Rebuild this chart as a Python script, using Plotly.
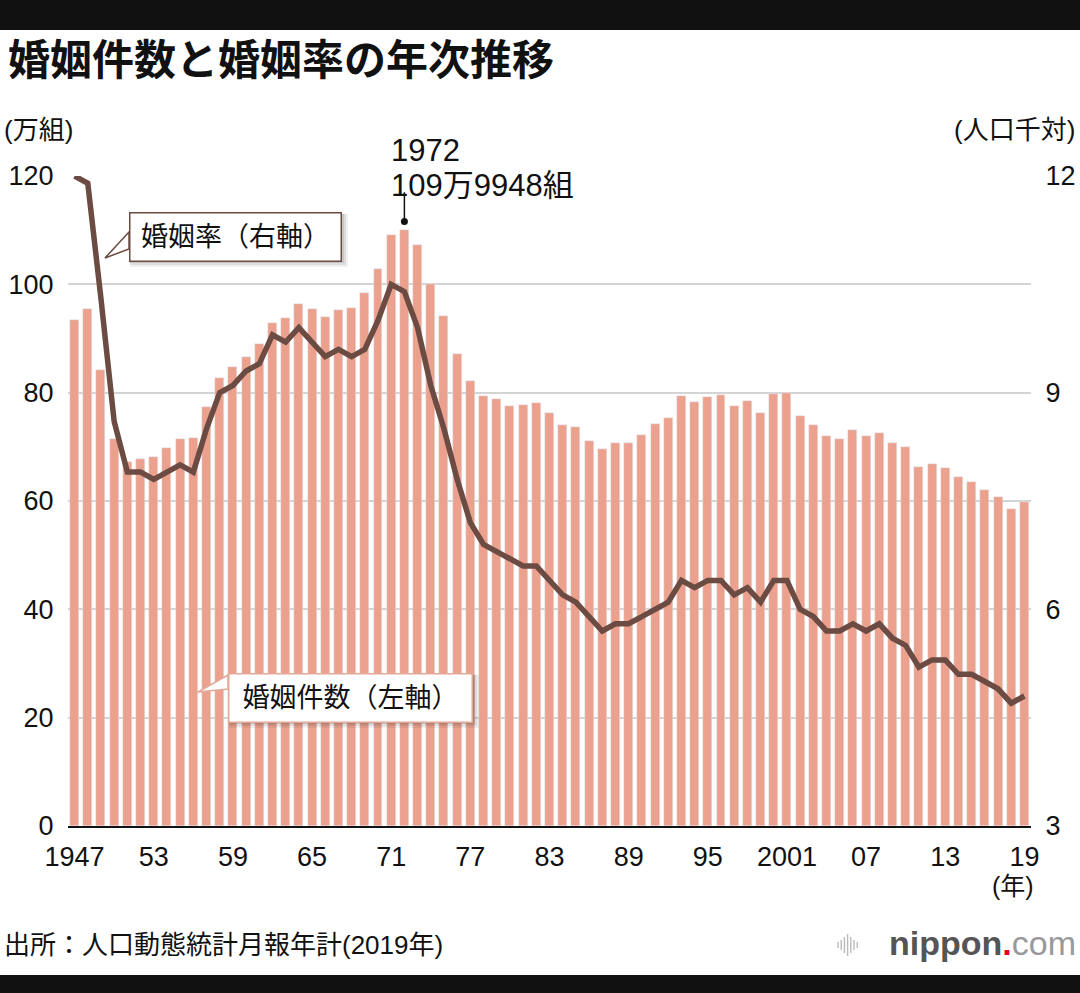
import plotly.graph_objects as go

# 年
years = list(range(1947, 2020))

# 婚姻件数（万組）
marriages = [
    93.4, 95.4, 84.2, 71.5, 67.2, 67.7, 68.2, 69.8, 71.5, 71.6,
    77.3, 82.7, 84.7, 86.6, 89.0, 92.8, 93.8, 96.3, 95.5, 94.0,
    95.3, 95.6, 98.4, 102.9, 109.1, 110.0, 107.2, 100.0, 94.2, 87.2,
    82.1, 79.3, 78.9, 77.5, 77.7, 78.1, 76.3, 74.0, 73.6, 71.1,
    69.6, 70.8, 70.8, 72.2, 74.2, 75.4, 79.3, 78.3, 79.2, 79.5,
    77.6, 78.5, 76.2, 79.8, 80.0, 75.7, 74.0, 72.0, 71.4, 73.1,
    72.0, 72.6, 70.8, 70.0, 66.2, 66.9, 66.1, 64.4, 63.5, 62.1,
    60.7, 58.6, 59.9,
]

# 婚姻率（人口千対）
rates = [
    12.0, 11.9, 10.3, 8.6, 7.9, 7.9, 7.8, 7.9, 8.0, 7.9,
    8.5, 9.0, 9.1, 9.3, 9.4, 9.8, 9.7, 9.9, 9.7, 9.5,
    9.6, 9.5, 9.6, 10.0, 10.5, 10.4, 9.9, 9.1, 8.5, 7.8,
    7.2, 6.9, 6.8, 6.7, 6.6, 6.6, 6.4, 6.2, 6.1, 5.9,
    5.7, 5.8, 5.8, 5.9, 6.0, 6.1, 6.4, 6.3, 6.4, 6.4,
    6.2, 6.3, 6.1, 6.4, 6.4, 6.0, 5.9, 5.7, 5.7, 5.8,
    5.7, 5.8, 5.6, 5.5, 5.2, 5.3, 5.3, 5.1, 5.1, 5.0,
    4.9, 4.7, 4.8,
]

x_tickvals = list(range(1947, 2020, 6))
x_ticktext = ["1947", "53", "59", "65", "71", "77", "83", "89", "95", "2001", "07", "13", "19"]
left_ticks = [0, 20, 40, 60, 80, 100, 120]
right_ticks = [3, 6, 9, 12]

peak_year = 1972
peak_value = marriages[years.index(peak_year)]

BAR = "#eba18e"
LINE = "#6b4b42"
FONT = "Liberation Sans, Noto Sans CJK JP"

W, H = 1080, 993
L, R, T, B = 68, 49, 176, 167
PW, PH = W - L - R, H - T - B


def px(x):
    return (x - L) / PW


def py(y):
    return (H - B - y) / PH


fig = go.Figure()
fig.add_trace(go.Bar(x=years, y=marriages, marker_color=BAR, width=0.68,
                     name="婚姻件数", hoverinfo="x+y"))
fig.add_trace(go.Scatter(x=years, y=rates, yaxis="y2", mode="lines",
                         line=dict(color=LINE, width=5.5), name="婚姻率",
                         cliponaxis=False))
# ピーク注記の点
fig.add_trace(go.Scatter(x=[peak_year], y=[peak_value + 1.6], mode="markers",
                         marker=dict(color="#111", size=7), showlegend=False))

shapes = [
    # 上下の黒帯
    dict(type="rect", xref="paper", yref="paper", x0=px(0), x1=px(W), y0=py(0), y1=py(30),
         fillcolor="#111", line_width=0, layer="above"),
    dict(type="rect", xref="paper", yref="paper", x0=px(0), x1=px(W), y0=py(975), y1=py(H),
         fillcolor="#111", line_width=0, layer="above"),
    # ピーク注記の線
    dict(type="line", xref="x", yref="y", x0=peak_year, x1=peak_year,
         y0=peak_value + 1.6, y1=peak_value + 7, line=dict(color="#111", width=1.5)),
]

# 吹き出しの影と尻尾
for (x0, y0, x1, y1) in [(128, 212, 342, 261), (227, 673, 473, 722)]:
    for k, op in [(6, 0.06), (4, 0.08), (2, 0.1)]:
        shapes.append(dict(type="rect", xref="paper", yref="paper",
                           x0=px(x0 + 2), x1=px(x1 + k), y0=py(y0 + 2), y1=py(y1 + k),
                           fillcolor="#000", opacity=op, line_width=0, layer="above"))


def tail(pts, color):
    d = "M " + " L ".join(f"{px(a):.5f},{py(b):.5f}" for a, b in pts) + " Z"
    return dict(type="path", xref="paper", yref="paper", path=d,
                fillcolor="white", line=dict(color=color, width=1.5), layer="above")


shapes.append(tail([(129, 232), (105, 258), (129, 249)], LINE))
shapes.append(tail([(228, 675), (198, 692), (228, 689)], "#e3a898"))

# nippon.com のアイコン
for i, hgt in enumerate([6, 10, 16, 22, 16, 10, 6]):
    xx = 838 + i * 3.2
    shapes.append(dict(type="line", xref="paper", yref="paper", x0=px(xx), x1=px(xx),
                       y0=py(945 - hgt / 2), y1=py(945 + hgt / 2),
                       line=dict(color="#bbbbbb", width=1.4)))

annotations = [
    dict(text="<b>婚姻件数と婚姻率の年次推移</b>", x=px(6), y=py(60), xanchor="left", yanchor="middle",
         font=dict(size=42, color="#111")),
    dict(text="(万組)", x=px(2), y=py(130), xanchor="left", yanchor="middle",
         font=dict(size=26, color="#111")),
    dict(text="(人口千対)", x=px(1077), y=py(130), xanchor="right", yanchor="middle",
         font=dict(size=26, color="#111")),
    dict(text="(年)", x=px(1013), y=py(886), xanchor="center", yanchor="middle",
         font=dict(size=25, color="#111")),
    dict(text="出所：人口動態統計月報年計(2019年)", x=px(2), y=py(945), xanchor="left", yanchor="middle",
         font=dict(size=26, color="#111")),
    dict(text="<b><span style='color:#555'>nippon</span><span style='color:#e60012'>.</span></b>"
              "<span style='color:#999'>com</span>",
         x=px(1078), y=py(943), xanchor="right", yanchor="middle",
         font=dict(size=34, family="Liberation Sans")),
    dict(text=f"{peak_year}", x=px(389), y=py(151), xanchor="left", yanchor="middle",
         font=dict(size=31, color="#111")),
    dict(text="109万9948組", x=px(389), y=py(185), xanchor="left", yanchor="middle",
         font=dict(size=31, color="#111")),
    dict(text="婚姻率（右軸）", x=px(235), y=py(236.5), xanchor="center", yanchor="middle",
         width=200, height=37, borderpad=5, bgcolor="white", bordercolor=LINE, borderwidth=1.5,
         font=dict(size=27, color="#111")),
    dict(text="婚姻件数（左軸）", x=px(350), y=py(697.5), xanchor="center", yanchor="middle",
         width=232, height=37, borderpad=5, bgcolor="white", bordercolor="#e3a898", borderwidth=1.5,
         font=dict(size=27, color="#111")),
]
for a in annotations:
    a.setdefault("xref", "paper")
    a.setdefault("yref", "paper")
    a["showarrow"] = False

fig.update_layout(
    width=W, height=H,
    margin=dict(l=L, r=R, t=T, b=B, autoexpand=False),
    paper_bgcolor="white", plot_bgcolor="white",
    font=dict(family=FONT, color="#111"),
    showlegend=False,
    bargap=0,
    shapes=shapes,
    annotations=annotations,
    xaxis=dict(range=[1946.5, 2019.5], tickvals=x_tickvals, ticktext=x_ticktext,
               showgrid=False, showline=True, linecolor="#111", linewidth=2,
               ticks="outside", ticklen=6, tickcolor="rgba(0,0,0,0)", automargin=False,
               tickfont=dict(size=27, color="#111"), zeroline=False),
    yaxis=dict(range=[0, 120], tickvals=left_ticks, showgrid=True, gridcolor="#d4d4d4",
               gridwidth=1.5, zeroline=False, ticks="outside", ticklen=8, automargin=False,
               tickcolor="rgba(0,0,0,0)", tickfont=dict(size=27, color="#111")),
    yaxis2=dict(range=[3, 12], tickvals=right_ticks, overlaying="y", side="right",
                showgrid=False, zeroline=False, ticks="outside", ticklen=8, automargin=False,
                tickcolor="rgba(0,0,0,0)", tickfont=dict(size=27, color="#111")),
)

fig.write_html("out.html", config={"displayModeBar": False},
               post_script="document.body.style.margin='0';")
